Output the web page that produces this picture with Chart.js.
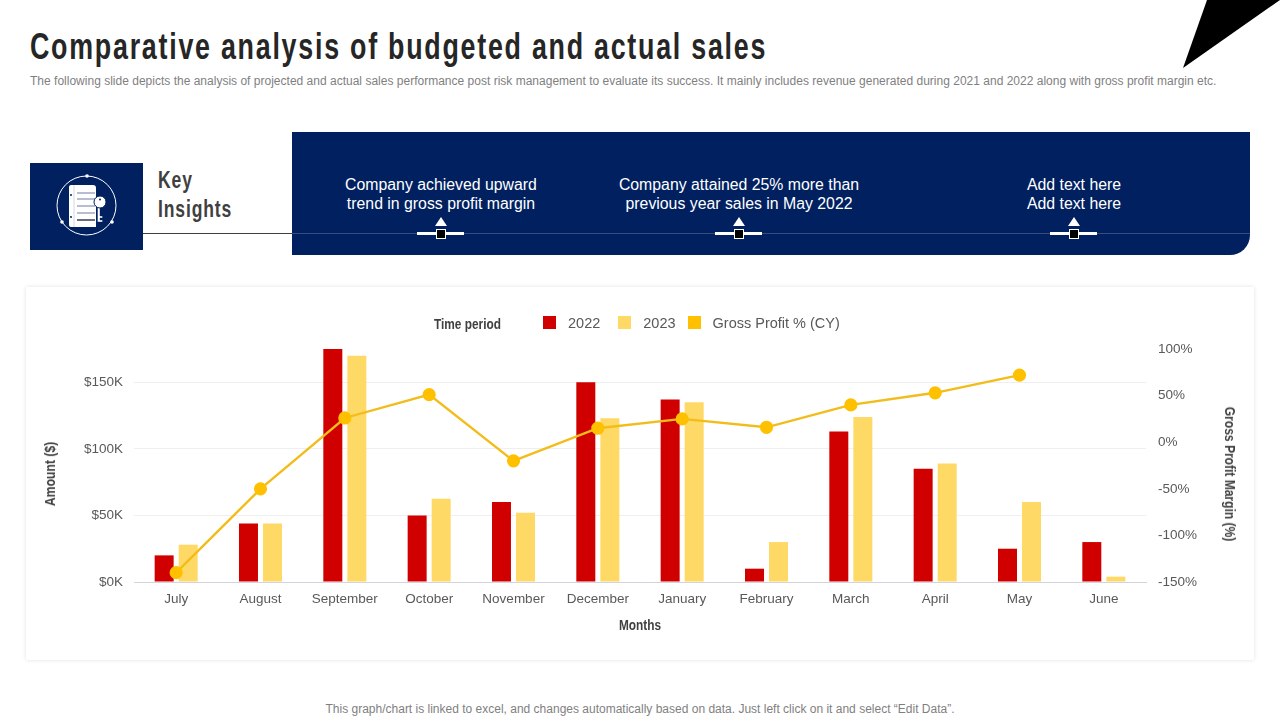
<!DOCTYPE html>
<html>
<head>
<meta charset="utf-8">
<title>Comparative analysis of budgeted and actual sales</title>
<script src="https://cdn.jsdelivr.net/npm/chart.js@4"></script>
<style>
html,body{margin:0;padding:0;background:#fff;}
#page{position:relative;width:1280px;height:720px;overflow:hidden;font-family:"Liberation Sans",Arial,sans-serif;}
.abs{position:absolute;white-space:nowrap;}
.narrow{font-family:"Liberation Sans",sans-serif;font-weight:bold;transform-origin:left top;}
#title{left:30px;top:25px;font-size:36px;line-height:44px;color:#262626;letter-spacing:2.35px;transform:scaleX(0.745);}
#sub{left:30px;top:73px;font-size:12px;line-height:16px;color:#7f7f7f;letter-spacing:0.008px;}
#foot{left:0;width:1280px;text-align:center;top:701px;font-size:12px;line-height:16px;color:#7f7f7f;}
#wedge{left:1183px;top:0;width:97px;height:68px;background:#000;clip-path:polygon(24px 0,97px 0,0 68px);}
#band{left:292px;top:132px;width:958px;height:123px;background:#002060;border-bottom-right-radius:20px;}
#iconbox{left:30px;top:163px;width:113px;height:87px;background:#002060;}
#key{left:158px;top:165px;font-size:24px;line-height:29px;color:#404040;letter-spacing:1.2px;transform:scaleX(0.73);}
#rule1{left:143px;top:233px;width:149px;height:1px;background:#404040;}
#rule2{left:292px;top:233px;width:958px;height:1px;background:#3a4d78;}
.msg{top:175px;width:300px;text-align:center;color:#fff;font-size:15.84px;line-height:19px;}
.tri{top:217px;width:0;height:0;border-left:6px solid transparent;border-right:6px solid transparent;border-bottom:9px solid #fff;}
.dash{top:232px;width:47px;height:3px;background:#fff;}
.sq{top:229px;width:8px;height:8px;background:#000;border:1px solid #fff;}
#card{left:26px;top:287px;width:1228px;height:373px;background:#fff;box-shadow:0 0 4px rgba(0,0,0,0.12);}
#card canvas{position:absolute;left:0;top:0;}
#period{left:434px;top:315px;font-size:15px;line-height:18px;color:#404040;transform:scaleX(0.79);}
#legend{left:543px;top:314px;height:18px;display:flex;font-size:14.5px;line-height:18px;color:#595959;}
#legend span.box{width:13px;height:13px;margin:2px 12px 0 0;display:block;}
#legend div{display:flex;margin-right:18px;}
#legend div:nth-child(2){margin-right:12px;}
.ytitle{font-size:14.5px;line-height:18px;color:#404040;transform-origin:center center;}
#months{left:619px;top:616px;font-size:15px;line-height:18px;color:#404040;transform:scaleX(0.79);}
</style>
</head>
<body>
<div id="page">
  <div id="wedge" class="abs"></div>
  <div id="title" class="abs narrow">Comparative analysis of budgeted and actual sales</div>
  <div id="sub" class="abs">The following slide depicts the analysis of projected and actual sales performance post risk management to evaluate its success. It mainly includes revenue generated during 2021 and 2022 along with gross profit margin etc.</div>

  <div id="band" class="abs"></div>
  <div id="iconbox" class="abs">
    <svg width="113" height="87" viewBox="0 0 113 87">
      <circle cx="56.5" cy="42.5" r="29.5" fill="none" stroke="#fff" stroke-width="1"/>
      <circle cx="57" cy="13" r="1.8" fill="#fff"/><circle cx="32" cy="59" r="1.8" fill="#fff"/><circle cx="82" cy="59" r="1.8" fill="#fff"/>
      <path d="M41 22h22a3 3 0 0 1 3 3v39h-25a2 2 0 0 1-2-2v-38a2 2 0 0 1 2-2z" fill="#fff"/>
      <path d="M44 22v42" stroke="#c8cede" stroke-width="0.8"/>
      <circle cx="41" cy="32" r="1" fill="#002060"/><circle cx="41" cy="54" r="1" fill="#002060"/>
      <path d="M47 30h18M47 36h18M47 43h18M47 50h18" stroke="#6f7da3" stroke-width="1"/>
      <path d="M47 57h18" stroke="#001030" stroke-width="1.2"/>
      <path d="M67.5 44v15h5v-2h-2.5v-2h2.5v-2h-2.5v-9z" fill="#fff" stroke="#002060" stroke-width="0.4"/>
      <circle cx="70" cy="39" r="6" fill="#fff" stroke="#002060" stroke-width="1"/>
      <circle cx="70" cy="36.5" r="1" fill="#002060"/>
    </svg>
  </div>
  <div id="key" class="abs narrow">Key<br>Insights</div>
  <div id="rule1" class="abs"></div>
  <div id="rule2" class="abs"></div>

  <div class="abs msg" style="left:291px">Company achieved upward<br>trend in gross profit margin</div>
  <div class="abs msg" style="left:589px">Company attained 25% more than<br>previous year sales in May 2022</div>
  <div class="abs msg" style="left:924px">Add text here<br>Add text here</div>

  <div class="abs tri" style="left:435px"></div><div class="abs dash" style="left:417px"></div><div class="abs sq" style="left:436px"></div>
  <div class="abs tri" style="left:733px"></div><div class="abs dash" style="left:715px"></div><div class="abs sq" style="left:734px"></div>
  <div class="abs tri" style="left:1068px"></div><div class="abs dash" style="left:1050px"></div><div class="abs sq" style="left:1069px"></div>

  <div id="card" class="abs"><canvas id="salesChart" width="1228" height="373"></canvas></div>
  <div id="period" class="abs narrow">Time period</div>
  <div id="legend" class="abs"></div>
  <div class="abs narrow ytitle" style="left:50px;top:474px;transform:translate(-50%,-50%) rotate(-90deg) scaleX(0.84)">Amount ($)</div>
  <div class="abs narrow ytitle" style="left:1230px;top:474px;transform:translate(-50%,-50%) rotate(90deg) scaleX(0.83)">Gross Profit Margin (%)</div>
  <div id="months" class="abs narrow">Months</div>

  <div id="foot" class="abs">This graph/chart is linked to excel, and changes automatically based on data. Just left click on it and select “Edit Data”.</div>
</div>

<script>
// values
const months = ['July','August','September','October','November','December','January','February','March','April','May','June'];
const sales2022 = [20,44,175,50,60,150,137,10,113,85,25,30];
const sales2023 = [28,44,170,62.5,52,123,135,30,124,89,60,4];
const grossProfit = [-140,-50,26,51,-20,15,25,16,40,53,72,null];
const amountTicks = [0,50,100,150];
const marginTicks = [-150,-100,-50,0,50,100];

const red = '#D00000', lightYellow = '#FFD966', yellow = '#FFC000';
const tickFont = { family: '"Liberation Sans", Arial, sans-serif', size: 13.5 };

// legend
const legendItems = [['2022', red], ['2023', lightYellow], ['Gross Profit % (CY)', yellow]];
document.getElementById('legend').innerHTML = legendItems.map(function(item){
    return '<div><span class="box" style="background:' + item[1] + '"></span>' + item[0] + '</div>';
}).join('');

const ctx = document.getElementById('salesChart').getContext('2d');
const salesChart = new Chart(ctx, {
    data: {
        labels: months,
        datasets: [
            { type: 'line', label: 'Gross Profit % (CY)', data: grossProfit, yAxisID: 'y1', order: 0,
              borderColor: '#F2BD1A', borderWidth: 2.4, backgroundColor: yellow,
              pointBackgroundColor: yellow, pointBorderColor: yellow, pointRadius: 5.4, tension: 0 },
            { type: 'bar', label: '2022', data: sales2022, yAxisID: 'y', order: 1, backgroundColor: red,
              categoryPercentage: 0.57, barPercentage: 0.79 },
            { type: 'bar', label: '2023', data: sales2023, yAxisID: 'y', order: 1, backgroundColor: lightYellow,
              categoryPercentage: 0.57, barPercentage: 0.79 }
        ]
    },
    options: {
        responsive: false,
        animation: false,
        layout: { padding: { top: 62 } },
        plugins: { legend: { display: false }, tooltip: { enabled: false } },
        scales: {
            x: {
                grid: { display: false, drawTicks: false },
                border: { color: '#d3d3db', width: 1 },
                ticks: { color: '#595959', font: tickFont, padding: 9, maxRotation: 0, autoSkip: false },
                afterFit: function(axis){ axis.height = 78; }
            },
            y: {
                position: 'left', min: 0, max: 175,
                grid: { color: '#efefef', drawTicks: false },
                border: { display: false },
                ticks: { color: '#595959', font: tickFont, padding: 11, callback: function(v){ return '$' + v + 'K'; } },
                afterBuildTicks: function(axis){ axis.ticks = amountTicks.map(function(v){ return { value: v }; }); },
                afterFit: function(axis){ axis.width = 108; }
            },
            y1: {
                position: 'right', min: -150, max: 100,
                grid: { display: false, drawTicks: false },
                border: { display: false },
                ticks: { color: '#595959', font: tickFont, padding: 12, callback: function(v){ return v + '%'; } },
                afterBuildTicks: function(axis){ axis.ticks = marginTicks.map(function(v){ return { value: v }; }); },
                afterFit: function(axis){ axis.width = 108; }
            }
        }
    }
});
</script>
</body>
</html>
